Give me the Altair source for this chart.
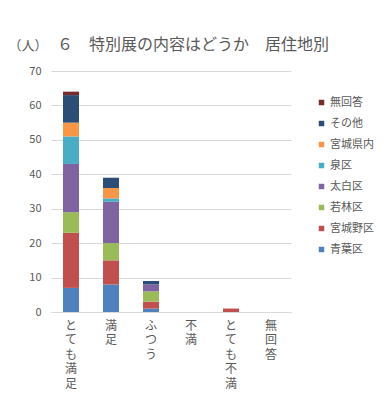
import altair as alt
import pandas as pd

categories = ["とても満足", "満足", "ふつう", "不満", "とても不満", "無回答"]
series_names = ["青葉区", "宮城野区", "若林区", "太白区", "泉区", "宮城県内", "その他", "無回答"]
series_colors = ["#4F81BD", "#C0504D", "#9BBB59", "#8064A2", "#4BACC6", "#F79646", "#2C4D75", "#772C2A"]

aoba      = [7, 8, 1, 0, 0, 0]
miyagino  = [16, 7, 2, 0, 1, 0]
wakabayashi = [6, 5, 3, 0, 0, 0]
taihaku   = [14, 12, 2, 0, 0, 0]
izumi     = [8, 1, 0, 0, 0, 0]
kennai    = [4, 3, 0, 0, 0, 0]
sonota    = [8, 3, 1, 0, 0, 0]
mukaito   = [1, 0, 0, 0, 0, 0]

values = [aoba, miyagino, wakabayashi, taihaku, izumi, kennai, sonota, mukaito]

rows = []
for si, (name, vals) in enumerate(zip(series_names, values)):
    for c, v in zip(categories, vals):
        rows.append({"cat": c, "series": name, "value": v, "ord": si})
df = pd.DataFrame(rows)

text_color = "#595959"
font = "Noto Sans CJK JP"

chart = alt.Chart(df).mark_bar(size=16).encode(
    x=alt.X("cat:N", sort=categories,
            scale=alt.Scale(paddingInner=0, paddingOuter=0),
            axis=alt.Axis(title=None, labelAngle=0, labelExpr="split(datum.label, '')",
                          labelBaseline="top", labelLineHeight=14.5, labelFontSize=12,
                          labelPadding=8, labelColor=text_color, labelFont=font,
                          ticks=False, domainColor="#D9D9D9", grid=False)),
    y=alt.Y("value:Q", stack="zero",
            scale=alt.Scale(domain=[0, 70], nice=False),
            axis=alt.Axis(values=list(range(0, 71, 10)), title="（人）", titleAngle=0,
                          titleX=-43, titleY=-26, titleAlign="left", titleBaseline="middle",
                          titleFontSize=13, titleFontWeight="normal", titleColor=text_color,
                          titleFont=font,
                          labelFontSize=11, labelColor=text_color, labelFont=font,
                          labelPadding=10, ticks=False, domain=False,
                          gridColor="#D9D9D9")),
    color=alt.Color("series:N",
                    scale=alt.Scale(domain=series_names[::-1], range=series_colors[::-1]),
                    legend=alt.Legend(title=None, orient="none", legendX=265, legendY=26,
                                      symbolType="square", symbolSize=30, symbolStrokeWidth=0,
                                      labelFontSize=11, labelColor=text_color, labelFont=font,
                                      rowPadding=9, labelOffset=3)),
    order=alt.Order("ord:Q", sort="ascending"),
).properties(
    width=240, height=241,
    autosize=alt.AutoSizeParams(type="none"),
    padding={"left": 43, "top": 63, "right": 93, "bottom": 90},
    title=alt.TitleParams("６　特別展の内容はどうか　居住地別", anchor="start", frame="group",
                          dx=6, offset=-14, fontSize=16, fontWeight="normal",
                          color=text_color, font=font),
).configure_view(stroke=None)

chart.save("out.html", embed_options={"renderer": "svg", "actions": False})
